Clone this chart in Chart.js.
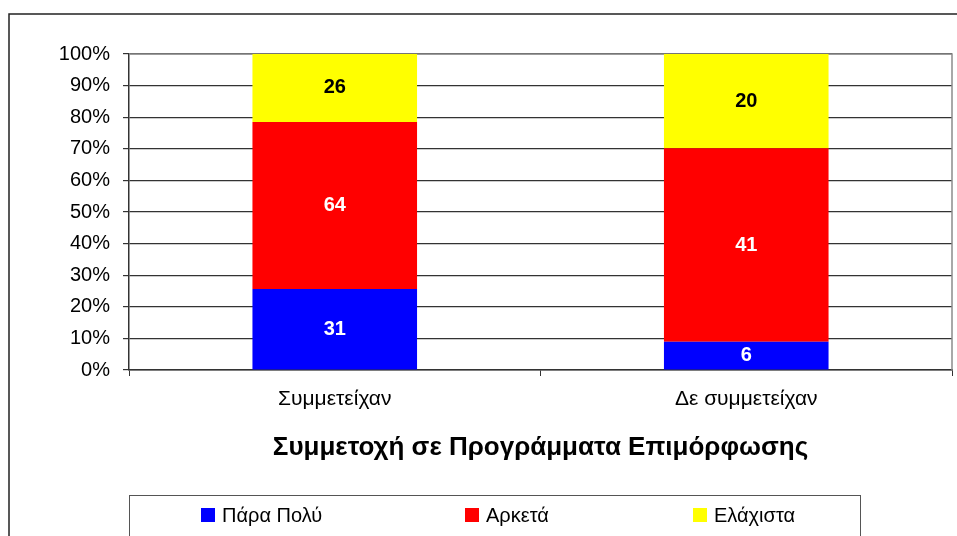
<!DOCTYPE html>
<html>
<head>
<meta charset="utf-8">
<script src="https://cdn.jsdelivr.net/npm/chart.js@4"></script>
<style>
    html, body { margin: 0; padding: 0; background: #fff; }
    #wrap { width: 957px; height: 536px; position: relative; }
</style>
</head>
<body>
<div id="wrap"><canvas id="chartCanvas" width="957" height="536"></canvas></div>
<script>
// Κατηγορίες και τιμές (πλήθος απαντήσεων)
const categories = ["Συμμετείχαν", "Δε συμμετείχαν"];
const seriesNames = ["Πάρα Πολύ", "Αρκετά", "Ελάχιστα"];
const paraPoly = [31, 6];
const arketa = [64, 41];
const elaxista = [26, 20];
const yTickValues = [0, 10, 20, 30, 40, 50, 60, 70, 80, 90, 100];
const chartTitle = "Συμμετοχή σε Προγράμματα Επιμόρφωσης";

const FONT = "'Liberation Sans', Arial, sans-serif";
const fills = ["#0000ff", "#ff0000", "#ffff00"];
const labelColors = ["#ffffff", "#ffffff", "#000000"];

const rawSeries = [paraPoly, arketa, elaxista];
const totals = categories.map((_, i) => rawSeries.reduce((s, arr) => s + arr[i], 0));
const toPercent = arr => arr.map((v, i) => v / totals[i] * 100);

// Ετικέτες τιμών μέσα στις μπάρες
const barLabels = {
    id: "barLabels",
    afterDatasetsDraw(chart) {
        const ctx = chart.ctx;
        ctx.save();
        ctx.font = "bold 20px " + FONT;
        ctx.textAlign = "center";
        ctx.textBaseline = "middle";
        chart.data.datasets.forEach((ds, di) => {
            const meta = chart.getDatasetMeta(di);
            meta.data.forEach((bar, i) => {
                ctx.fillStyle = labelColors[di];
                ctx.fillText(String(ds.raw[i]), bar.x, (bar.y + bar.base) / 2);
            });
        });
        ctx.restore();
    }
};

// Πλαίσιο, δεξί όριο περιοχής και υπόμνημα
const frameAndLegend = {
    id: "frameAndLegend",
    beforeDatasetsDraw(chart) {
        const { ctx, chartArea } = chart;
        ctx.save();
        ctx.strokeStyle = "#8c8c8c";
        ctx.lineWidth = 1.5;
        ctx.beginPath();
        ctx.moveTo(chartArea.left, chartArea.top);
        ctx.lineTo(chartArea.right, chartArea.top);
        ctx.lineTo(chartArea.right, chartArea.bottom);
        ctx.stroke();
        ctx.restore();
    },
    afterDraw(chart) {
        const ctx = chart.ctx;
        ctx.save();
        ctx.strokeStyle = "#222";
        ctx.lineWidth = 1.5;
        ctx.strokeRect(9, 14, 1000, 600);

        ctx.strokeStyle = "#555";
        ctx.lineWidth = 1;
        ctx.strokeRect(129.5, 495.5, 731, 100);

        const itemX = [201, 465, 693];
        ctx.font = "20px " + FONT;
        ctx.textBaseline = "middle";
        ctx.textAlign = "left";
        chart.data.datasets.forEach((ds, i) => {
            ctx.fillStyle = ds.backgroundColor;
            ctx.fillRect(itemX[i], 508, 14, 14);
            ctx.fillStyle = "#000";
            ctx.fillText(ds.label, itemX[i] + 21, 516);
        });
        ctx.restore();
    }
};

const ctx = document.getElementById("chartCanvas").getContext("2d");

new Chart(ctx, {
    type: "bar",
    data: {
        labels: categories,
        datasets: rawSeries.map((arr, i) => ({
            label: seriesNames[i],
            data: toPercent(arr),
            raw: arr,
            backgroundColor: fills[i],
            borderWidth: 0,
            barPercentage: 0.4,
            categoryPercentage: 1
        }))
    },
    options: {
        responsive: false,
        animation: false,
        layout: { padding: { left: 0, top: 54, right: 5, bottom: 0 } },
        plugins: {
            legend: { display: false },
            tooltip: { enabled: false },
            title: { display: false }
        },
        scales: {
            x: {
                stacked: true,
                grid: {
                    offset: true,
                    drawOnChartArea: false,
                    color: "#333",
                    tickLength: 6
                },
                border: { color: "#333", width: 1.5 },
                ticks: {
                    color: "#000",
                    font: { family: FONT, size: 21 },
                    padding: 11
                },
                title: {
                    display: true,
                    text: chartTitle,
                    color: "#000",
                    font: { family: FONT, size: 26, weight: "bold" },
                    padding: { top: 0, bottom: 73 }
                },
                afterFit(scale) { scale.height = 166; }
            },
            y: {
                stacked: true,
                min: 0,
                max: 100,
                afterBuildTicks(scale) {
                    scale.ticks = yTickValues.map(v => ({ value: v }));
                },
                grid: {
                    color: "#333",
                    lineWidth: 1.2,
                    tickLength: 6
                },
                border: { color: "#333", width: 1.5 },
                ticks: {
                    color: "#000",
                    font: { family: FONT, size: 20 },
                    padding: 13,
                    callback: v => v + "%"
                },
                afterFit(scale) { scale.width = 129; }
            }
        }
    },
    plugins: [barLabels, frameAndLegend]
});
</script>
</body>
</html>
